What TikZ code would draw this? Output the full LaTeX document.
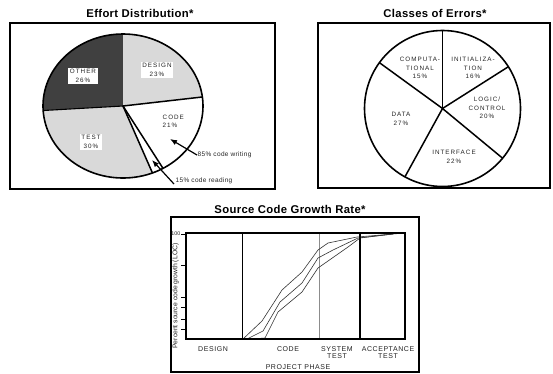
\documentclass[tikz,border=0pt]{standalone}
\usepackage{fontspec}
\setmainfont{Liberation Sans}
\newfontfamily\slicefont[LetterSpace=16]{Liberation Sans}
\newfontfamily\notefont[LetterSpace=5]{Liberation Sans}
\newfontfamily\axisfont[LetterSpace=8]{Liberation Sans}
\newfontfamily\headfont[LetterSpace=3]{Liberation Sans}
\usetikzlibrary{arrows.meta}
\definecolor{slicelight}{HTML}{D9D9D9}
\definecolor{slicedark}{HTML}{404040}
\definecolor{inktext}{HTML}{222222}
\definecolor{phasegray}{HTML}{8C8C8C}
\begin{document}
\begin{tikzpicture}[x=1pt,y=-1pt,
  heading/.style={font=\headfont\fontsize{11.3}{13}\selectfont\bfseries, anchor=base, inner sep=0pt},
  slicelbl/.style={font=\slicefont\fontsize{6.3}{8.7}\selectfont, text=inktext, align=center, inner sep=1.5pt},
  whitelbl/.style={slicelbl, fill=white},
  notelbl/.style={font=\notefont\fontsize{6.5}{7.5}\selectfont, text=inktext, anchor=west, inner sep=0.5pt},
  axislbl/.style={font=\axisfont\fontsize{7}{7.8}\selectfont, text=inktext, align=center, inner sep=0pt},
  frame/.style={draw=black, line width=1.8},
  rim/.style={draw=black, line width=1.6},
  spoke/.style={draw=black, line width=1.5},
  pointer/.style={draw=black, line width=1.2, -{Latex[length=7,width=5.5]}},
  growth/.style={draw=black!80, line width=0.6},
]
\useasboundingbox (0,0) rectangle (553,373);

% ---------------- Effort distribution ----------------
\node[heading] (efftitle) at (140,17) {Effort Distribution*};
\draw[frame] (10,23) rectangle (275,189);
\begin{scope}[shift={(123,106)}, yscale=-1]
  \coordinate (effc) at (0,0);
  \fill[slicedark] (effc) -- (90:80 and 72) arc[start angle=90, end angle=183.6, x radius=80, y radius=72] -- cycle;
  \fill[slicelight] (effc) -- (7.2:80 and 72) arc[start angle=7.2, end angle=90, x radius=80, y radius=72] -- cycle;
  \fill[slicelight] (effc) -- (183.6:80 and 72) arc[start angle=183.6, end angle=291.6, x radius=80, y radius=72] -- cycle;
  \coordinate (effa) at (183.6:80 and 72);
  \coordinate (effb) at (7.2:80 and 72);
  \coordinate (effd) at (291.6:80 and 72);
  \coordinate (effe) at (300:80 and 72);
  \draw[rim] (effc) ellipse[x radius=80, y radius=72];
  \draw[draw=black, line width=1.1] (effa) -- (effc);
  \draw[spoke] (effc) -- (effb);
  \draw[spoke] (effc) -- (effd);
  \draw[spoke] (effc) -- (effe);
\end{scope}
\node[whitelbl] (other) at (83,76) {OTHER\\26\%};
\node[whitelbl] (design) at (157,70) {DESIGN\\23\%};
\node[whitelbl] (test) at (91,142) {TEST\\30\%};
\node[slicelbl, align=left, anchor=north west] (code) at (161,113) {CODE\\21\%};
\node[notelbl] (writing) at (197,155) {85\% code writing};
\node[notelbl] (reading) at (175,181) {15\% code reading};
\coordinate (writetip) at (170,139);
\coordinate (readtip) at (152,160);
\draw[pointer] (writing.west) -- (writetip);
\draw[pointer] ([xshift=-1,yshift=-3]reading.west) -- (readtip);

% ---------------- Classes of errors ----------------
\node[heading] (errtitle) at (435,17) {Classes of Errors*};
\draw[frame] (318,23) rectangle (550,188);
\begin{scope}[shift={(442.5,108.5)}, yscale=-1]
  \coordinate (errc) at (0,0);
  \coordinate (erra) at (90:78);
  \coordinate (errb) at (32.4:78);
  \coordinate (errd) at (-39.6:78);
  \coordinate (erre) at (-118.8:78);
  \coordinate (errf) at (144:78);
  \draw[rim] (errc) circle[radius=78];
  \draw[draw=black, line width=0.8] (errc) -- (erra);
  \draw[spoke] (errc) -- (errb);
  \draw[spoke] (errc) -- (errd);
  \draw[spoke] (errc) -- (erre);
  \draw[spoke] (errc) -- (errf);
\end{scope}
\node[slicelbl] (comp) at (420,68) {COMPUTA-\\TIONAL\\15\%};
\node[slicelbl] (init) at (473,68) {INITIALIZA-\\TION\\16\%};
\node[slicelbl] (logic) at (487,108) {LOGIC/\\CONTROL\\20\%};
\node[slicelbl] (data) at (401,119) {DATA\\27\%};
\node[slicelbl] (iface) at (454,157) {INTERFACE\\22\%};

% ---------------- Source code growth ----------------
\node[heading] (growtitle) at (290,213) {Source Code Growth Rate*};
\draw[draw=black, line width=1.1] (171,217) rectangle (419,372);
\coordinate (plotsw) at (186,339);
\coordinate (plotne) at (405,233);
\draw[draw=black, line width=0.8] (242,233) -- (242,339);
\draw[draw=phasegray, line width=0.9] (319,233) -- (319,339);
% three growth curves
\draw[growth] (243,339) -- (262,321) -- (282,290) -- (302,272) -- (318,250) -- (328,243) -- (357,237) -- (393,234) -- (405,233);
\draw[growth] (247,339) -- (263,331) -- (280,302) -- (302,283) -- (318,258) -- (333,250) -- (358,238) -- (393,234);
\draw[growth] (252,339) -- (265,338) -- (278,312) -- (302,292) -- (318,268) -- (348,247) -- (360,238) -- (393,234);
\draw[draw=black, line width=2] (360,233) -- (360,339);
\draw[frame] (plotsw) rectangle (plotne);
% y-axis ticks
\foreach \ty in {234,265,297,307,319,329}
  \draw[draw=black, line width=0.7] (181,\ty) -- (186,\ty);
\node[font=\fontsize{5.3}{6}\selectfont, text=inktext, anchor=east, inner sep=0.5pt] (ytop) at (181,234) {100};
\node[font=\fontsize{6.8}{7.5}\selectfont, text=inktext, rotate=90, inner sep=0pt] (ylabel) at (175.5,296) {Percent source code growth (LOC)};
% phase labels
\node[axislbl] (pdesign) at (213,349) {DESIGN};
\node[axislbl] (pcode) at (288,349) {CODE};
\node[axislbl] (psys) at (337,352.5) {SYSTEM\\TEST};
\node[axislbl] (pacc) at (388,352.5) {ACCEPTANCE\\TEST};
\node[axislbl] (phase) at (298,367) {PROJECT PHASE};
\end{tikzpicture}
\end{document}
